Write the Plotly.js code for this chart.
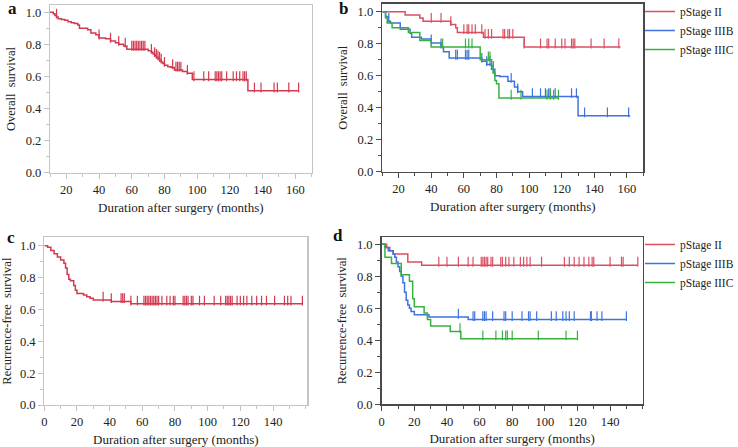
<!DOCTYPE html>
<html>
<head>
<meta charset="utf-8">
<script src="https://cdn.plot.ly/plotly-3.0.1.min.js"></script>
<style>
body { margin: 0; background: #fff; }
#box { width: 738px; height: 447px; }
</style>
</head>
<body>
<div id="box"></div>
<script>
'use strict'

// a: overall survival, all patients
var osAllT = [10, 12, 13, 14, 15, 17, 19, 21, 23, 25, 27, 28, 33, 35, 38, 40, 44, 47, 50, 52, 55, 57, 70, 72, 73, 74, 75, 76, 77, 78, 79, 80, 82, 84, 86, 91, 94, 97, 131, 162];
var osAllS = [1.0, 0.99, 0.98, 0.97, 0.96, 0.955, 0.95, 0.94, 0.935, 0.93, 0.92, 0.90, 0.89, 0.87, 0.86, 0.84, 0.835, 0.82, 0.81, 0.80, 0.79, 0.77, 0.76, 0.75, 0.74, 0.73, 0.72, 0.71, 0.70, 0.69, 0.68, 0.67, 0.66, 0.655, 0.64, 0.63, 0.62, 0.58, 0.51, 0.51];
var osAllCens = [14, 40, 47, 52, 56, 60, 61, 62, 63, 64, 65, 66, 67, 68, 72, 74, 75, 76, 77, 78, 80, 85, 87, 88, 89, 90, 94, 98, 104, 107, 111, 112, 113, 114, 115, 118, 122, 124, 126, 128, 129, 130, 135, 139, 147, 149, 156, 162];

// b: overall survival by stage
var osIIT = [10, 24, 33, 35, 52, 55, 56, 72, 97, 156];
var osIIS = [1.0, 0.98, 0.96, 0.94, 0.92, 0.90, 0.87, 0.84, 0.78, 0.78];
var osIICens = [40, 46, 52, 60, 62, 63, 65, 67, 71, 73, 75, 77, 84, 85, 87, 88, 90, 97, 107, 111, 112, 116, 120, 122, 126, 127, 128, 138, 146, 155];

var osIIIBT = [10, 12, 13.5, 15, 21, 27, 28, 34, 40, 46, 47.5, 51, 71, 74, 77, 79, 82, 87, 91, 93, 96, 130, 162];
var osIIIBS = [1.0, 0.97, 0.94, 0.93, 0.89, 0.865, 0.84, 0.83, 0.805, 0.78, 0.75, 0.71, 0.69, 0.67, 0.64, 0.60, 0.595, 0.565, 0.53, 0.50, 0.47, 0.35, 0.35];
var osIIIBCens = [14, 40, 46, 55, 56, 61, 62, 63, 71, 74, 76, 78, 89, 93, 102, 107, 110, 112, 113, 116, 126, 129, 134, 148, 161];

var osIIICT = [10, 12, 13, 16, 26, 33, 40, 70, 77, 78, 79, 80, 81.5, 118];
var osIIICS = [1.0, 0.96, 0.93, 0.90, 0.87, 0.82, 0.78, 0.70, 0.66, 0.62, 0.57, 0.55, 0.46, 0.46];
var osIIICCens = [47, 61, 63, 65, 75, 76, 78, 89, 95, 111, 113, 115, 118];

// c: recurrence-free survival, all patients
var rfsAllT = [0, 2, 4, 6, 8, 10, 12, 13, 14, 15, 16, 18, 19, 20, 24, 26, 28, 30, 41, 53, 158];
var rfsAllS = [1.0, 0.99, 0.97, 0.95, 0.93, 0.91, 0.89, 0.86, 0.82, 0.79, 0.78, 0.75, 0.72, 0.70, 0.69, 0.68, 0.67, 0.66, 0.65, 0.635, 0.635];
var rfsAllCens = [36, 41, 47, 48, 49, 53, 57, 61, 62, 63, 64, 65, 66, 67, 68, 69, 70, 72, 75, 77, 79, 80, 85, 86, 87, 88, 90, 91, 95, 98, 104, 108, 111, 112, 113, 114, 115, 118, 120, 122, 124, 127, 130, 133, 136, 141, 147, 149, 151, 158];

// d: recurrence-free survival by stage
var rfsIIT = [0, 3, 5, 7, 16, 24.5, 157];
var rfsIIS = [1.0, 0.98, 0.96, 0.94, 0.89, 0.87, 0.87];
var rfsIICens = [35, 40, 47, 53, 56, 61, 62, 63, 64, 65, 67, 68, 73, 74, 76, 78, 81, 85, 87, 89, 91, 98, 112, 115, 118, 121, 124, 127, 129, 130, 140, 147, 148, 157];

var rfsIIIBT = [0, 2, 4, 7, 8, 9, 10, 11, 12, 13, 14, 15, 16, 17, 18, 20, 29, 53, 150];
var rfsIIIBS = [1.0, 0.98, 0.96, 0.94, 0.92, 0.89, 0.86, 0.83, 0.80, 0.76, 0.70, 0.65, 0.62, 0.60, 0.58, 0.56, 0.545, 0.53, 0.53];
var rfsIIIBCens = [47, 56, 57, 62, 63, 64, 68, 75, 76, 80, 86, 90, 91, 95, 104, 107, 111, 113, 115, 118, 128, 128.5, 132, 135, 150];

var rfsIIICT = [0, 2, 6, 12, 17, 19, 20, 26, 28, 30, 42, 48.5, 120];
var rfsIIICS = [1.0, 0.92, 0.88, 0.81, 0.77, 0.66, 0.61, 0.57, 0.53, 0.49, 0.455, 0.41, 0.41];
var rfsIIICCens = [12, 48, 62, 70, 74, 76, 77, 80, 96, 113, 120];

var stageNames = ['pStage II', 'pStage IIIB', 'pStage IIIC'];

var RED = '#d3394f';
var RED2 = '#da4f62';
var BLUE = '#3e73e0';
var GREEN = '#38b040';
var FONT = 'Liberation Serif, Times New Roman, serif';

// value of the KM step curve at time t
function survAt(t, times, surv){
    var v = surv[0];
    for(var i = 0; i < times.length; i++){
        if(times[i] <= t) v = surv[i];
    }
    return v;
}

var traces = [];
function addCurve(times, surv, cens, color, xa, ya, name, legend){
    traces.push({
        type: 'scatter',
        mode: 'lines',
        x: times,
        y: surv,
        xaxis: xa,
        yaxis: ya,
        name: name || '',
        showlegend: !!name,
        legend: legend || 'legend',
        line: {color: color, width: 1.5, shape: 'hv'},
        hoverinfo: 'skip'
    });
    var cy = [];
    for(var i = 0; i < cens.length; i++){
        cy.push(survAt(cens[i], times, surv) + 0.021);
    }
    traces.push({
        type: 'scatter',
        mode: 'markers',
        x: cens,
        y: cy,
        xaxis: xa,
        yaxis: ya,
        showlegend: false,
        marker: {symbol: 'line-ns-open', size: 7, color: color, line: {color: color, width: 1.2}},
        hoverinfo: 'skip'
    });
}

addCurve(osAllT, osAllS, osAllCens, RED, 'x', 'y');
addCurve(osIIT, osIIS, osIICens, RED2, 'x2', 'y2', stageNames[0], 'legend');
addCurve(osIIIBT, osIIIBS, osIIIBCens, BLUE, 'x2', 'y2', stageNames[1], 'legend');
addCurve(osIIICT, osIIICS, osIIICCens, GREEN, 'x2', 'y2', stageNames[2], 'legend');
addCurve(rfsAllT, rfsAllS, rfsAllCens, RED, 'x3', 'y3');
addCurve(rfsIIT, rfsIIS, rfsIICens, RED2, 'x4', 'y4', stageNames[0], 'legend2');
addCurve(rfsIIIBT, rfsIIIBS, rfsIIIBCens, BLUE, 'x4', 'y4', stageNames[1], 'legend2');
addCurve(rfsIIICT, rfsIIICS, rfsIIICCens, GREEN, 'x4', 'y4', stageNames[2], 'legend2');

var W = 738, H = 447;
function xd(l, r){ return [l / W, r / W]; }
function yd(t, b){ return [1 - b / H, 1 - t / H]; }

function xAxis(dom, range, vals, color, lw){
    return {
        domain: dom, range: range, anchor: 'free',
        tickmode: 'array', tickvals: vals,
        ticks: 'outside', ticklen: 5, tickwidth: 1, tickcolor: color,
        minor: {dtick: 10, tick0: 0, ticks: 'outside', ticklen: 3, tickcolor: color, showgrid: false},
        showline: true, mirror: true, linecolor: color, linewidth: lw,
        showgrid: false, zeroline: false,
        tickfont: {family: FONT, size: 12.5, color: '#222'},
        title: {text: 'Duration after surgery (months)', standoff: 6, font: {family: FONT, size: 13, color: '#222'}}
    };
}
function yAxis(dom, range, title, color, lw){
    return {
        domain: dom, range: range,
        dtick: 0.2, tick0: 0, tickformat: '.1f',
        ticks: 'outside', ticklen: 5, tickwidth: 1, tickcolor: color,
        minor: {dtick: 0.1, ticks: 'outside', ticklen: 3, tickcolor: color, showgrid: false},
        showline: true, mirror: true, linecolor: color, linewidth: lw,
        showgrid: false, zeroline: false,
        tickfont: {family: FONT, size: 12.5, color: '#222'},
        title: {text: title, standoff: 7, font: {family: FONT, size: 12.5, color: '#222'}}
    };
}

var topTicks = [20, 40, 60, 80, 100, 120, 140, 160];
var botTicks = [0, 20, 40, 60, 80, 100, 120, 140];
var LIGHT = '#c4c4c4', DARK = '#4a4a4a';

var xa1 = xAxis(xd(50, 311.7), [10, 170], topTicks, LIGHT, 1.2);
var xa2 = xAxis(xd(382.3, 643.3), [10, 170], topTicks, DARK, 1.6);
var xa3 = xAxis(xd(44.3, 307.3), [0, 161], botTicks, LIGHT, 1.2);
var xa4 = xAxis(xd(381.7, 642.7), [0, 160], botTicks, DARK, 1.6);
xa1.anchor = 'y'; xa2.anchor = 'y2'; xa3.anchor = 'y3'; xa4.anchor = 'y4';

var ya1 = yAxis(yd(5, 173), [-0.002, 1.045], 'Overall  survival', LIGHT, 1.2);
var ya2 = yAxis(yd(4, 171.7), [0, 1.048], 'Overall  survival', DARK, 1.6);
var ya3 = yAxis(yd(237.3, 405), [0, 1.053], 'Recurrence-free  survival', LIGHT, 1.2);
var ya4 = yAxis(yd(237.3, 404.3), [0, 1.044], 'Recurrence-free  survival', DARK, 1.6);
ya1.anchor = 'x'; ya2.anchor = 'x2'; ya3.anchor = 'x3'; ya4.anchor = 'x4';

function legendAt(top){
    return {
        x: 640 / W, y: 1 - top / H, xanchor: 'left', yanchor: 'top',
        bgcolor: 'rgba(0,0,0,0)', borderwidth: 0, tracegroupgap: 0,
        font: {family: FONT, size: 11.5, color: '#222'}
    };
}

function letter(txt, x, y){
    return {text: '<b>' + txt + '</b>', x: x / W, y: 1 - y / H, xref: 'paper', yref: 'paper',
        xanchor: 'center', yanchor: 'middle', showarrow: false,
        font: {family: FONT, size: 17, color: '#111'}};
}

var layout = {
    width: W,
    height: H,
    margin: {l: 0, r: 0, t: 0, b: 0, pad: 0, autoexpand: false},
    paper_bgcolor: '#fff',
    plot_bgcolor: '#fff',
    showlegend: true,
    legend: legendAt(-3),
    legend2: legendAt(230),
    xaxis: xa1, yaxis: ya1,
    xaxis2: xa2, yaxis2: ya2,
    xaxis3: xa3, yaxis3: ya3,
    xaxis4: xa4, yaxis4: ya4,
    annotations: [
        letter('a', 13, 9),
        letter('b', 343, 8),
        letter('c', 11, 237),
        letter('d', 338, 235)
    ]
};

Plotly.newPlot('box', traces, layout, {staticPlot: true, displayModeBar: false});
</script>
</body>
</html>
